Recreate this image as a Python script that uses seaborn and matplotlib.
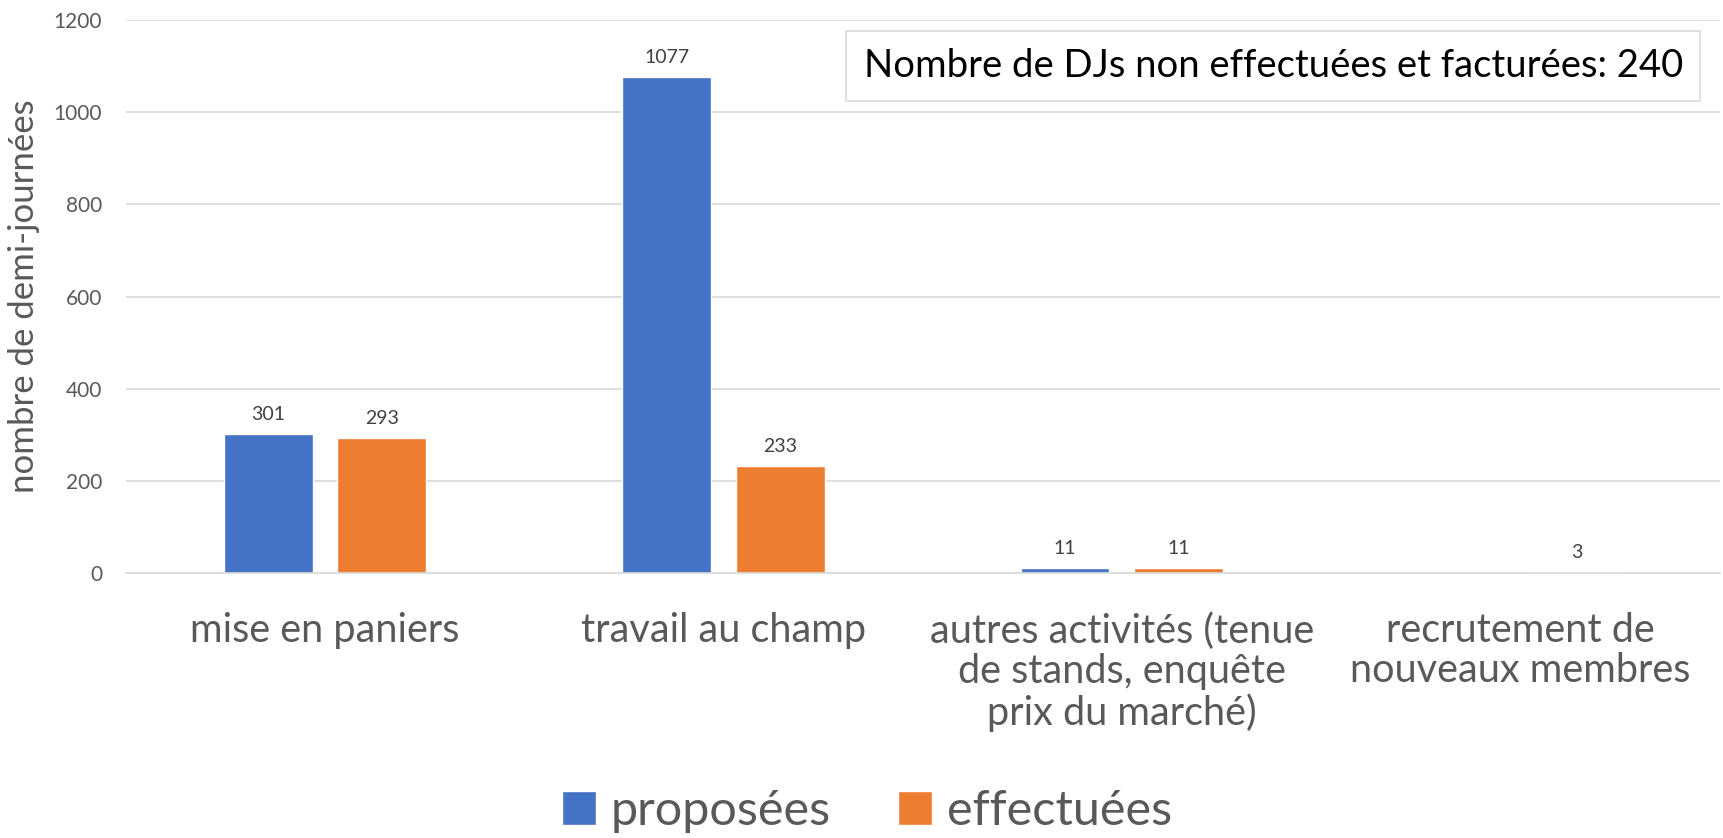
import numpy as np
import pandas as pd
import matplotlib.pyplot as plt
import seaborn as sns

categories = [
    "mise en paniers",
    "travail au champ",
    "autres activités (tenue\nde stands, enquête\nprix du marché)",
    "recrutement de\nnouveaux membres",
]
proposees = [301, 1077, 11, np.nan]
effectuees = [293, 233, 11, 3]
series = ["proposées", "effectuées"]
colors = ["#4472C4", "#ED7D31"]
note = "Nombre de DJs non effectuées et facturées: 240"

df = pd.DataFrame({
    "categorie": categories * 2,
    "valeur": proposees + effectuees,
    "serie": [series[0]] * 4 + [series[1]] * 4,
})

sns.set_style("white")
plt.rcParams["font.family"] = ["Lato", "DejaVu Sans"]
txt = "#595959"

fig = plt.figure(figsize=(17.23, 8.38), dpi=100)
ax = fig.add_axes([0.073, 0.316, 0.925, 0.66])

sns.barplot(data=df, x="categorie", y="valeur", hue="serie", order=categories,
            hue_order=series, palette=colors, width=0.57, gap=0.22,
            saturation=1, ax=ax)

for c in ax.containers:
    ax.bar_label(c, fmt="%.0f", padding=8, fontsize=14, color="#404040")

ax.set_ylim(0, 1200)
ax.set_yticks(range(0, 1201, 200))
ax.set_xlim(-0.5, 3.5)
ax.grid(axis="y", color="#d9d9d9", linewidth=1.2)
ax.set_axisbelow(True)
for s in ["top", "right", "left"]:
    ax.spines[s].set_visible(False)
ax.spines["bottom"].set_color("#d9d9d9")
ax.spines["bottom"].set_linewidth(1.2)
ax.tick_params(axis="y", length=0, labelsize=15, labelcolor=txt, pad=17)
ax.tick_params(axis="x", length=0, labelsize=28.5, labelcolor=txt, pad=28)
for lab in ax.get_xticklabels():
    lab.set_linespacing(1.1)
ax.set_xlabel("")
ax.set_ylabel("nombre de demi-journées", fontsize=25, color=txt, labelpad=10)

ax.text(0.72, 0.917, note, transform=ax.transAxes, ha="center", va="center",
        fontsize=27.5, color="black",
        bbox=dict(boxstyle="square,pad=0.45", facecolor="white", edgecolor="#d9d9d9", linewidth=1.2))

ax.legend(loc="center", bbox_to_anchor=(0.465, -0.43), ncol=2, frameon=False,
          fontsize=35, labelcolor=txt, handlelength=0.7, handleheight=0.7,
          handletextpad=0.3, columnspacing=1.4)

fig.savefig("out.png", dpi=100)
